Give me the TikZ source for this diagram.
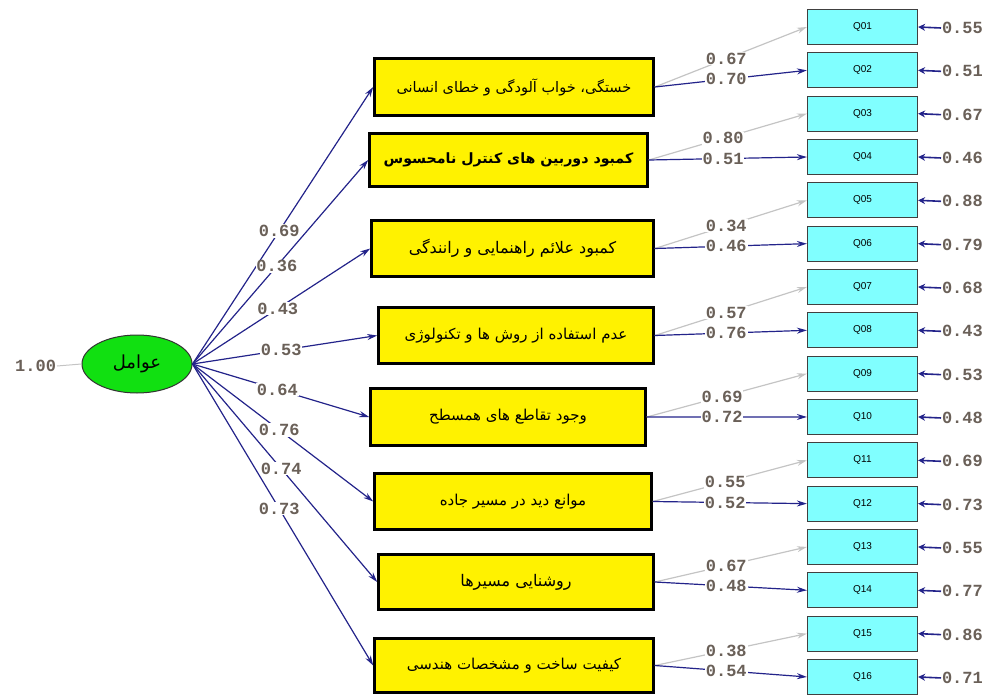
\documentclass[tikz,border=0pt]{standalone}
\usepackage{fontspec}
\usetikzlibrary{arrows.meta,shapes.geometric}
\TeXXeTstate=1
\setmainfont{Liberation Sans}
\newfontfamily\arabicfont[Script=Arabic]{DejaVu Sans}
\newfontfamily\monofnt{Liberation Mono}
\definecolor{navyln}{HTML}{23238A}
\definecolor{grayln}{HTML}{C4C4C4}
\definecolor{numtxt}{HTML}{6A6058}
\definecolor{qfill}{HTML}{80FFFF}
\definecolor{ellfill}{HTML}{11E011}
\begin{document}
\begin{tikzpicture}[x=1pt,y=-1pt,
  factor/.style={draw=black,line width=2.6pt,fill=yellow,inner sep=0pt,font=\arabicfont\fontsize{15}{17}\selectfont},
  item/.style={draw=black!75,line width=1.2pt,fill=qfill,minimum width=110pt,minimum height=35pt,inner sep=0pt,font=\fontsize{10}{12}\selectfont},
  num/.style={font=\monofnt\bfseries\fontsize{17}{17}\selectfont,text=numtxt,inner sep=0.8pt},
  lab/.style={num,fill=white},
  navarr/.style={draw=navyln,line width=1.2pt,-{Stealth[length=10pt,width=6pt]}},
  grayarr/.style={draw=grayln,line width=1.2pt,-{Stealth[length=10pt,width=6pt]}},
  errarr/.style={draw=navyln,line width=1.6pt,-{Stealth[length=7pt,width=7pt]}},
]
\useasboundingbox (0,0) rectangle (992,695);

% latent factor
\node[ellipse,draw=black!80,line width=1pt,fill=ellfill,minimum width=110pt,minimum height=58pt,inner sep=0pt,
      font=\arabicfont\fontsize{18}{20}\selectfont] (ell) at (137,364) {\beginR عوامل\endR};
\node[num,anchor=east] (one) at (57,366) {1.00};
\draw[grayln,line width=1pt] (one.east) -- (ell.west);

% yellow factor boxes
\node[factor,minimum width=279pt,minimum height=57pt,font=\arabicfont\fontsize{14.5}{17}\selectfont] (y1) at (514,87) {\beginR خستگی، خواب آلودگی و خطای انسانی\endR};
\node[factor,minimum width=278pt,minimum height=53pt,font=\arabicfont\bfseries\fontsize{14.2}{17}\selectfont] (y2) at (508.5,160) {\beginR کمبود دوربین های کنترل نامحسوس\endR};
\node[factor,minimum width=282pt,minimum height=56pt,font=\arabicfont\fontsize{16}{18}\selectfont] (y3) at (512.5,248.5) {\beginR کمبود علائم راهنمایی و رانندگی\endR};
\node[factor,minimum width=275pt,minimum height=56pt] (y4) at (516,335.5) {\beginR عدم استفاده از روش ها و تکنولوژی\endR};
\node[factor,minimum width=275pt,minimum height=57pt] (y5) at (508,417) {\beginR وجود تقاطع های همسطح\endR};
\node[factor,minimum width=277pt,minimum height=56pt] (y6) at (513,501.5) {\beginR موانع دید در مسیر جاده\endR};
\node[factor,minimum width=275pt,minimum height=55pt,font=\arabicfont\fontsize{16}{18}\selectfont] (y7) at (516,582) {\beginR روشنایی مسیرها\endR};
\node[factor,minimum width=279pt,minimum height=54pt] (y8) at (514,665.5) {\beginR کیفیت ساخت و مشخصات هندسی\endR};

% observed items
\foreach \i/\t in {1/Q01,2/Q02,3/Q03,4/Q04,5/Q05,6/Q06,7/Q07,8/Q08,9/Q09,10/Q10,11/Q11,12/Q12,13/Q13,14/Q14,15/Q15,16/Q16}
  \node[item] (q\i) at (862.5,{27+(\i-1)*43.33}) {\t};

% error variances
\foreach \i/\v in {1/0.55,2/0.51,3/0.67,4/0.46,5/0.88,6/0.79,7/0.68,8/0.43,9/0.53,10/0.48,11/0.69,12/0.73,13/0.55,14/0.77,15/0.86,16/0.71}{
  \node[num,anchor=west] (e\i) at (941,{28+(\i-1)*43.33}) {\v};
  \draw[errarr] (e\i.west) -- (q\i.east);
}

% factor loadings: latent -> boxes
\foreach \i in {1,...,8}
  \draw[navarr] (ell.east) -- (y\i.west);
\foreach \i/\v in {1/0.69,2/0.36,3/0.43,4/0.53,5/0.64,6/0.76,7/0.74,8/0.73}
  \path (ell.east) -- (y\i.west) node[lab,pos=0.48] {\v};

% boxes -> items
\foreach \i/\a/\b in {1/0.67/0.70,2/0.80/0.51,3/0.34/0.46,4/0.57/0.76,5/0.69/0.72,6/0.55/0.52,7/0.67/0.48,8/0.38/0.54}{
  \pgfmathtruncatemacro\qa{2*\i-1}
  \pgfmathtruncatemacro\qb{2*\i}
  \draw[grayarr] (y\i.east) -- (q\qa.west);
  \draw[navarr] (y\i.east) -- (q\qb.west);
  \path (y\i.east) -- (q\qa.west) node[lab,pos=0.47] {\a};
  \path (y\i.east) -- (q\qb.west) node[lab,pos=0.47] {\b};
}
\end{tikzpicture}
\end{document}
